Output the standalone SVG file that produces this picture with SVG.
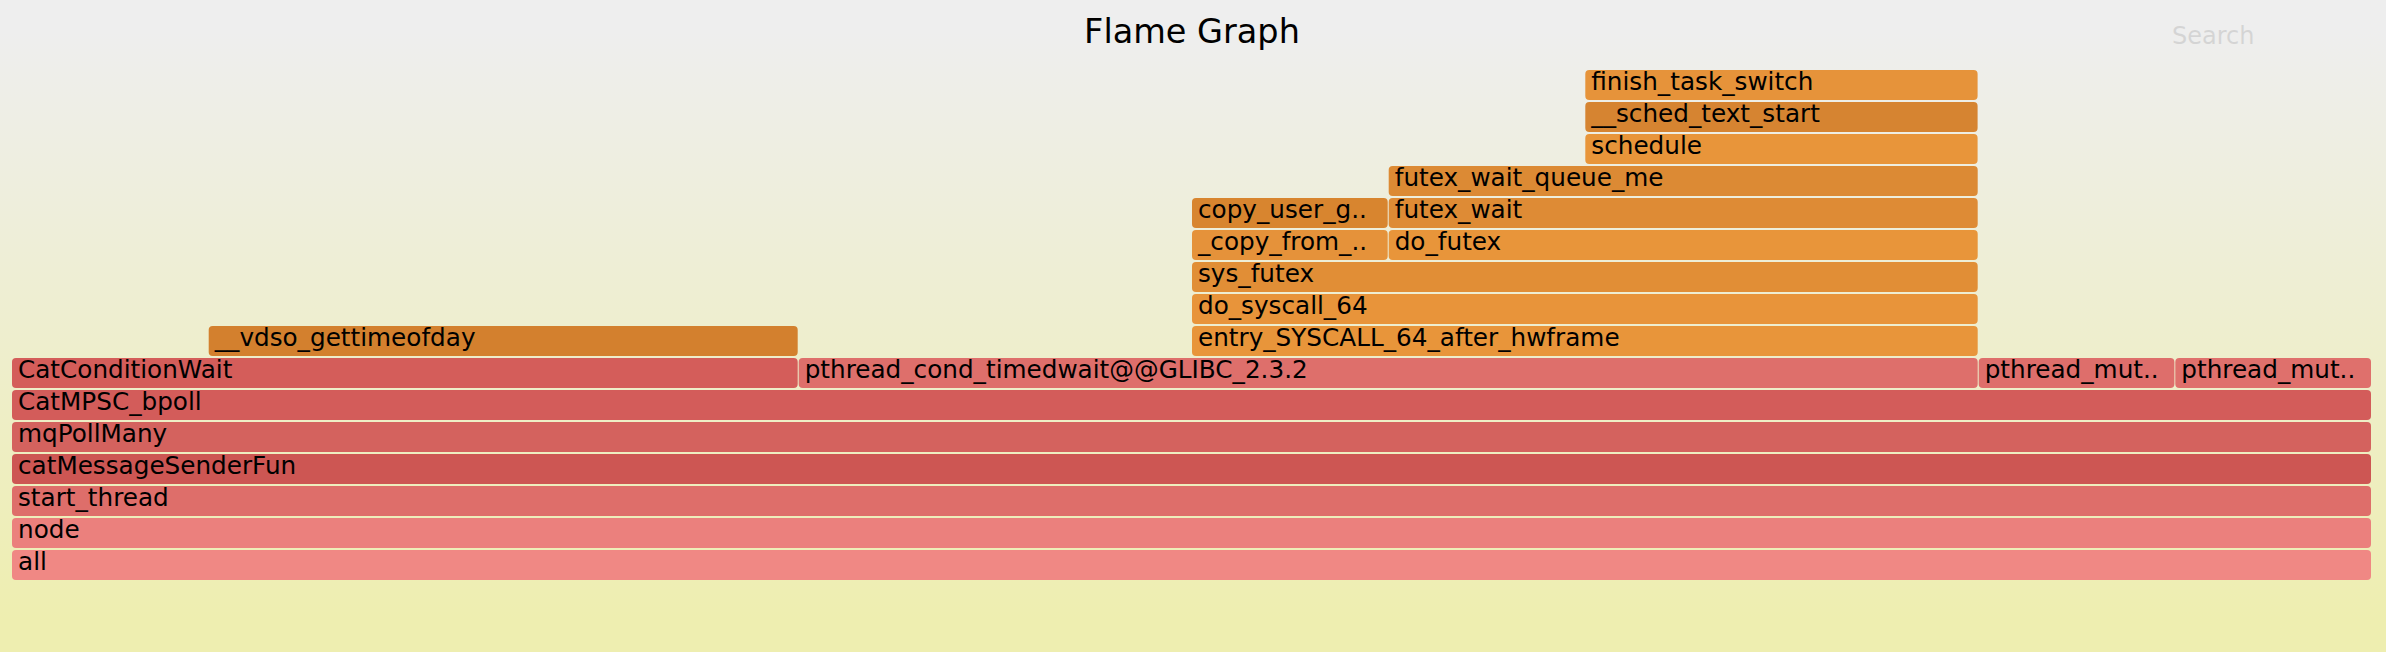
<svg xmlns="http://www.w3.org/2000/svg" width="2386" height="652" viewBox="0 0 2386 652">
<defs>
<linearGradient id="background" x1="0" y1="0" x2="0" y2="1">
<stop stop-color="#eeeeee" offset="5%"/>
<stop stop-color="#eeeeb0" offset="95%"/>
</linearGradient>
</defs>
<style>
.fr rect { rx: 4px; ry: 4px; }
text { font-family: "DejaVu Sans", Verdana, sans-serif; fill: #000000; }
.lb { font-size: 24.7px; }
.title { font-size: 33.5px; }
.search { font-size: 24px; fill: #000000; opacity: 0.1; }
</style>
<rect x="0" y="0" width="2386" height="652" fill="url(#background)"/>
<text class="title" x="1192" y="43" text-anchor="middle">Flame Graph</text>
<text class="search" x="2172" y="44">Search</text>
<g id="connectors"/>
<g id="frames">
<g id="f-all" class="fr"><rect x="12" y="550" width="2359" height="30" fill="#f08884"/><text class="lb" x="18" y="570">all</text></g>
<g id="f-node" class="fr"><rect x="12" y="518" width="2359" height="30" fill="#eb807d"/><text class="lb" x="18" y="538">node</text></g>
<g id="f-start_thread" class="fr"><rect x="12" y="486" width="2359" height="30" fill="#de6e6a"/><text class="lb" x="18" y="506">start_thread</text></g>
<g id="f-catMessageSenderFun" class="fr"><rect x="12" y="454" width="2359" height="30" fill="#cd5653"/><text class="lb" x="18" y="474">catMessageSenderFun</text></g>
<g id="f-mqPollMany" class="fr"><rect x="12" y="422" width="2359" height="30" fill="#d4625e"/><text class="lb" x="18" y="442">mqPollMany</text></g>
<g id="f-CatMPSC_bpoll" class="fr"><rect x="12" y="390" width="2359" height="30" fill="#d35c5a"/><text class="lb" x="18" y="410">CatMPSC_bpoll</text></g>
<g id="f-CatConditionWait" class="fr"><rect x="12" y="358" width="785.7" height="30" fill="#d45d5a"/><text class="lb" x="18" y="378">CatConditionWait</text></g>
<g id="f-pthread_cond_timedwait" class="fr"><rect x="798.7" y="358" width="1179" height="30" fill="#de6f6b"/><text class="lb" x="804.7" y="378">pthread_cond_timedwait@@GLIBC_2.3.2</text></g>
<g id="f-pthread_mut_1" class="fr"><rect x="1978.7" y="358" width="195.7" height="30" fill="#de6e6b"/><text class="lb" x="1984.7" y="378">pthread_mut..</text></g>
<g id="f-pthread_mut_2" class="fr"><rect x="2175.3" y="358" width="195.7" height="30" fill="#df706c"/><text class="lb" x="2181.3" y="378">pthread_mut..</text></g>
<g id="f-vdso_gettimeofday" class="fr"><rect x="208.7" y="326" width="589" height="30" fill="#d3802e"/><text class="lb" x="214.7" y="346">__vdso_gettimeofday</text></g>
<g id="f-entry_SYSCALL_64_after_hwframe" class="fr"><rect x="1192" y="326" width="785.7" height="30" fill="#e8953a"/><text class="lb" x="1198" y="346">entry_SYSCALL_64_after_hwframe</text></g>
<g id="f-do_syscall_64" class="fr"><rect x="1192" y="294" width="785.7" height="30" fill="#e8943a"/><text class="lb" x="1198" y="314">do_syscall_64</text></g>
<g id="f-sys_futex" class="fr"><rect x="1192" y="262" width="785.7" height="30" fill="#e18e36"/><text class="lb" x="1198" y="282">sys_futex</text></g>
<g id="f-copy_from" class="fr"><rect x="1192" y="230" width="195.7" height="30" fill="#e5923a"/><text class="lb" x="1198" y="250">_copy_from_..</text></g>
<g id="f-do_futex" class="fr"><rect x="1388.7" y="230" width="589" height="30" fill="#e8953a"/><text class="lb" x="1394.7" y="250">do_futex</text></g>
<g id="f-copy_user_g" class="fr"><rect x="1192" y="198" width="195.7" height="30" fill="#d8852f"/><text class="lb" x="1198" y="218">copy_user_g..</text></g>
<g id="f-futex_wait" class="fr"><rect x="1388.7" y="198" width="589" height="30" fill="#de8b35"/><text class="lb" x="1394.7" y="218">futex_wait</text></g>
<g id="f-futex_wait_queue_me" class="fr"><rect x="1388.7" y="166" width="589" height="30" fill="#dc8a34"/><text class="lb" x="1394.7" y="186">futex_wait_queue_me</text></g>
<g id="f-schedule" class="fr"><rect x="1585.3" y="134" width="392.3" height="30" fill="#e8953a"/><text class="lb" x="1591.3" y="154">schedule</text></g>
<g id="f-sched_text_start" class="fr"><rect x="1585.3" y="102" width="392.3" height="30" fill="#d68431"/><text class="lb" x="1591.3" y="122">__sched_text_start</text></g>
<g id="f-finish_task_switch" class="fr"><rect x="1585.3" y="70" width="392.3" height="30" fill="#e6933a"/><text class="lb" x="1591.3" y="90">finish_task_switch</text></g>
</g>
</svg>
